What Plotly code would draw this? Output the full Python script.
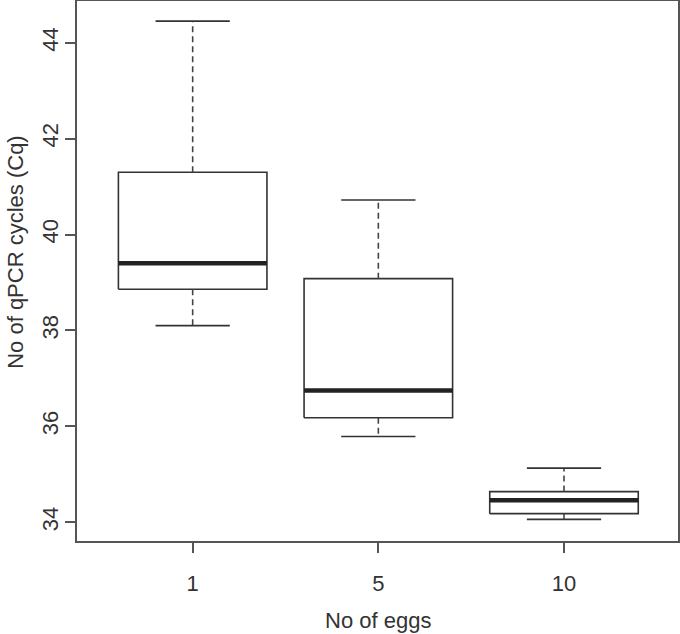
import plotly.graph_objects as go

# Data
categories = ["1", "5", "10"]
lower_whisker = [38.10, 35.79, 34.06]
q1 = [38.86, 36.18, 34.18]
median = [39.40, 36.75, 34.46]
q3 = [41.30, 39.08, 34.64]
upper_whisker = [44.45, 40.72, 35.13]
y_ticks = [34, 36, 38, 40, 42, 44]

positions = [1, 2, 3]
box_half = 0.4
cap_half = 0.2
line_col = "#333333"

fig = go.Figure()

for i, p in enumerate(positions):
    # box outline
    fig.add_trace(go.Scatter(
        x=[p - box_half, p + box_half, p + box_half, p - box_half, p - box_half],
        y=[q1[i], q1[i], q3[i], q3[i], q1[i]],
        mode="lines", line=dict(color=line_col, width=1.6),
        showlegend=False, hoverinfo="skip"))
    # median
    fig.add_trace(go.Scatter(
        x=[p - box_half, p + box_half], y=[median[i], median[i]],
        mode="lines", line=dict(color="#222222", width=4.5),
        showlegend=False, hoverinfo="skip"))
    # whiskers (dashed)
    fig.add_trace(go.Scatter(
        x=[p, p], y=[q3[i], upper_whisker[i]],
        mode="lines", line=dict(color="#444444", width=1.6, dash="6px,4px"),
        showlegend=False, hoverinfo="skip"))
    fig.add_trace(go.Scatter(
        x=[p, p], y=[q1[i], lower_whisker[i]],
        mode="lines", line=dict(color="#444444", width=1.6, dash="6px,4px"),
        showlegend=False, hoverinfo="skip"))
    # caps
    for w in (upper_whisker[i], lower_whisker[i]):
        fig.add_trace(go.Scatter(
            x=[p - cap_half, p + cap_half], y=[w, w],
            mode="lines", line=dict(color=line_col, width=1.6),
            showlegend=False, hoverinfo="skip"))

font_family = "Liberation Sans, Arial, sans-serif"
text_col = "#333333"
fs = 22

fig.update_layout(
    width=680, height=634,
    margin=dict(l=77, r=2, t=1, b=93, autoexpand=False),
    paper_bgcolor="white", plot_bgcolor="white",
    font=dict(family=font_family, size=fs, color=text_col),
    xaxis=dict(
        range=[0.377, 3.614], tickmode="array", tickvals=positions,
        ticktext=categories, ticks="outside", ticklen=10, tickwidth=1.5,
        tickcolor="#555555", showline=True, linecolor="#555555", linewidth=1.6,
        mirror=True, showgrid=False, zeroline=False, automargin=False,
        ticklabelstandoff=12,
        tickfont=dict(size=fs, color=text_col)),
    yaxis=dict(
        range=[33.61, 44.87], tickmode="array", tickvals=y_ticks,
        ticks="outside", ticklen=10, tickwidth=1.5, tickcolor="#555555",
        showline=True, linecolor="#555555", linewidth=1.6, mirror=True,
        showgrid=False, zeroline=False, tickangle=-90, automargin=False,
        ticklabelstandoff=-2,
        tickfont=dict(size=fs, color=text_col)),
    annotations=[
        dict(text="No of eggs", xref="paper", yref="paper", x=0.5,
             y=(540.7 - 620) / 539.7, xanchor="center", yanchor="middle",
             showarrow=False, font=dict(size=fs, color=text_col)),
        dict(text="No of qPCR cycles (Cq)", xref="paper", yref="paper",
             x=(15 - 77.3) / 600.7, y=(540.7 - 252) / 539.7,
             xanchor="center", yanchor="middle",
             textangle=-90, showarrow=False,
             font=dict(size=fs, color=text_col)),
    ],
)

fig.write_html(
    "out.html",
    config={"displayModeBar": False},
    post_script="document.body.style.margin='0';document.body.style.overflow='hidden';",
)
